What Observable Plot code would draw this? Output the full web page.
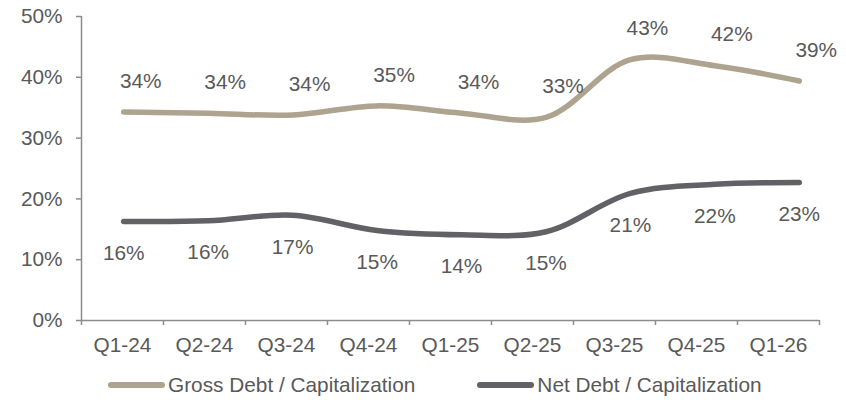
<!DOCTYPE html>
<html>
<head>
<meta charset="utf-8">
<script src="https://cdn.jsdelivr.net/npm/d3@7"></script>
<script src="https://cdn.jsdelivr.net/npm/@observablehq/plot@0.6"></script>
<style>
  html, body { margin: 0; padding: 0; background: #fff; }
  #wrap { position: relative; width: 846px; height: 400px; font-family: "Liberation Sans", Arial, sans-serif; }
  #wrap > div.layer { position: absolute; left: 0; top: 0; }
  #legend { position: absolute; left: 108px; top: 372px; height: 26px; display: flex; align-items: center;
            font-size: 20.8px; color: #595959; white-space: nowrap; }
  .item { display: flex; align-items: center; }
  .sw { width: 57px; height: 6px; border-radius: 3px; margin-right: 3px; }
</style>
</head>
<body>
<div id="wrap">
  <div class="layer" id="axes"></div>
  <div class="layer" id="lines"></div>
  <div id="legend"></div>
</div>
<script>
const categories = ["Q1-24","Q2-24","Q3-24","Q4-24","Q1-25","Q2-25","Q3-25","Q4-25","Q1-26"];
const grossDebt = [0.343, 0.341, 0.338, 0.353, 0.341, 0.334, 0.429, 0.419, 0.394];
const netDebt   = [0.163, 0.164, 0.173, 0.148, 0.141, 0.146, 0.209, 0.224, 0.227];
const yTicks = [0, 0.1, 0.2, 0.3, 0.4, 0.5];
const seriesNames = ["Gross Debt / Capitalization", "Net Debt / Capitalization"];
const seriesColors = ["#ADA38E", "#616166"];

const W = 846, H = 365;
const textColor = "#595959", axisColor = "#8c8c8c";
const fmt = d3.format(".0%");
const idx = d3.range(categories.length);
const xDomain = [-0.5, categories.length - 0.5];
const bounds = d3.range(categories.length + 1).map(i => i - 0.5);

const style = { fontFamily: "'Liberation Sans', Arial, sans-serif", fontSize: "20.8px", color: textColor, background: "transparent" };

// Axes layer
const axes = Plot.plot({
  width: W, height: H,
  marginLeft: 81, marginRight: 27, marginTop: 16, marginBottom: 45,
  style,
  x: { type: "linear", domain: xDomain },
  y: { domain: [0, 0.5] },
  marks: [
    Plot.ruleX([xDomain[0]], { stroke: axisColor, strokeWidth: 1.5 }),
    Plot.ruleY([0], { stroke: axisColor, strokeWidth: 1.5 }),
    Plot.axisY({ ticks: yTicks, tickFormat: fmt, tickSize: 5, tickPadding: 14, stroke: axisColor, strokeWidth: 1.5, fill: textColor, label: null }),
    Plot.axisX({ ticks: bounds, tickFormat: () => "", tickSize: 5, stroke: axisColor, strokeWidth: 1.5, label: null }),
    Plot.axisX({ ticks: idx, tickFormat: i => categories[i], tickSize: 0, tickPadding: 17, fill: textColor, label: null })
  ]
});
document.getElementById("axes").appendChild(axes);

// Data layer
const rows = [];
idx.forEach(i => {
  rows.push({ s: seriesNames[0], i, v: grossDebt[i] });
  rows.push({ s: seriesNames[1], i, v: netDebt[i] });
});
const lines = Plot.plot({
  width: W, height: H,
  marginLeft: 81, marginRight: 5, marginTop: 16, marginBottom: 45,
  style,
  x: { type: "linear", domain: xDomain, axis: null },
  y: { domain: [0, 0.5], axis: null },
  color: { domain: seriesNames, range: seriesColors },
  marks: [
    Plot.line(rows, { x: "i", y: "v", z: "s", stroke: "s", strokeWidth: 5.5, curve: "catmull-rom", strokeLinecap: "round" }),
    Plot.text(rows.filter(d => d.s === seriesNames[0]), { x: "i", y: "v", text: d => fmt(d.v), dx: 17, dy: -31, fill: textColor }),
    Plot.text(rows.filter(d => d.s === seriesNames[1]), { x: "i", y: "v", text: d => fmt(d.v), dy: 32, fill: textColor })
  ]
});
document.getElementById("lines").appendChild(lines);

// Legend
const legend = document.getElementById("legend");
seriesNames.forEach((name, k) => {
  const it = document.createElement("div");
  it.className = "item";
  if (k > 0) it.style.marginLeft = "62px";
  const sw = document.createElement("div");
  sw.className = "sw";
  sw.style.background = seriesColors[k];
  const t = document.createElement("span");
  t.textContent = name;
  it.appendChild(sw); it.appendChild(t);
  legend.appendChild(it);
});
</script>
</body>
</html>
